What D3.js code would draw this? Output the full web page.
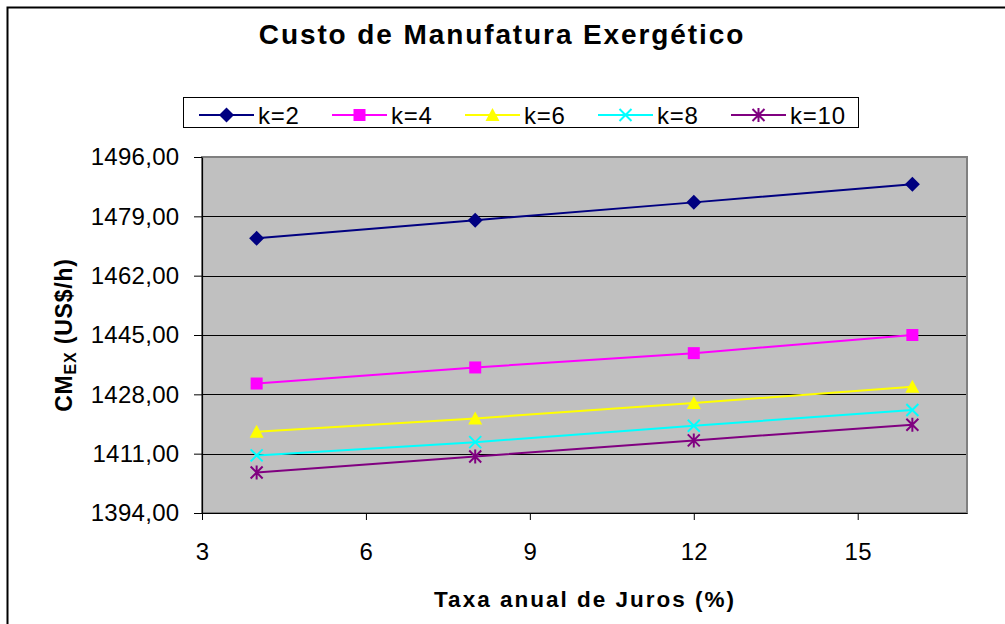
<!DOCTYPE html>
<html>
<head>
<meta charset="utf-8">
<script src="https://cdn.jsdelivr.net/npm/d3@7"></script>
<style>
  html, body { margin: 0; padding: 0; background: #fff; }
  svg { display: block; font-family: "Liberation Sans", Arial, sans-serif; }
</style>
</head>
<body>
<svg id="chart" width="1005" height="624"></svg>
<script>
// Annual interest rate (%) on the x axis
const taxas = [4, 8, 12, 16];
// Exergetic manufacturing cost (US$/h) for each k
const k2  = [1472.7, 1477.9, 1483.0, 1488.2];
const k4  = [1431.1, 1435.7, 1439.8, 1445.0];
const k6  = [1417.3, 1421.1, 1425.5, 1430.2];
const k8  = [1410.5, 1414.3, 1419.0, 1423.5];
const k10 = [1405.6, 1410.2, 1414.8, 1419.3];
const seriesNames = ["k=2", "k=4", "k=6", "k=8", "k=10"];
const yTicks = [1394, 1411, 1428, 1445, 1462, 1479, 1496];
const xTicks = [3, 6, 9, 12, 15];

const seriesValues = [k2, k4, k6, k8, k10];
const colors  = ["#000080", "#FF00FF", "#FFFF00", "#00FFFF", "#800080"];
const shapes  = ["diamond", "square", "triangle", "x", "star"];

const svg = d3.select("#chart");

// outer chart border
svg.append("rect").attr("x", 7.5).attr("y", 7.5).attr("width", 1010).attr("height", 630)
  .attr("fill", "#fff").attr("stroke", "#000").attr("stroke-width", 2);

const L = 202, R = 967, T = 157, B = 513;
const x = d3.scaleLinear().domain([3, 17]).range([L, R]);
const y = d3.scaleLinear().domain([1394, 1496]).range([B, T]);

// plot area
svg.append("rect").attr("x", L).attr("y", T).attr("width", R - L).attr("height", B - T)
  .attr("fill", "#C0C0C0");

// horizontal gridlines
svg.append("g").selectAll("line").data(yTicks.slice(1, -1)).join("line")
  .attr("x1", L).attr("x2", R)
  .attr("y1", d => Math.round(y(d)) + 0.5).attr("y2", d => Math.round(y(d)) + 0.5)
  .attr("stroke", "#000").attr("stroke-width", 1);

// plot area frame
svg.append("rect").attr("x", L).attr("y", T).attr("width", R - L).attr("height", B - T)
  .attr("fill", "none").attr("stroke", "#808080").attr("stroke-width", 2);

const fmt = d => d3.format(".2f")(d).replace(".", ",");

// y axis
const yAxis = svg.append("g").attr("transform", `translate(${L},0)`)
  .call(d3.axisLeft(y).tickValues(yTicks).tickFormat(fmt).tickSize(8).tickSizeOuter(0).tickPadding(14.5));
// x axis
const xAxis = svg.append("g").attr("transform", `translate(0,${B})`)
  .call(d3.axisBottom(x).tickValues(xTicks).tickFormat(d3.format("d")).tickSize(7).tickSizeOuter(0).tickPadding(23));
[yAxis, xAxis].forEach(a => {
  a.select(".domain").attr("stroke", "#000").attr("stroke-width", 1.2);
  a.selectAll(".tick line").attr("stroke", "#000");
  a.selectAll(".tick text").attr("fill", "#000")
    .style("font-family", "'Liberation Sans', Arial, sans-serif").style("font-size", "24px")
    .style("letter-spacing", "0.3px");
});

// marker generator
function marker(g, shape, color) {
  if (shape === "diamond") {
    g.append("path").attr("d", "M0,-7.5L7.5,0L0,7.5L-7.5,0Z").attr("fill", color);
  } else if (shape === "square") {
    g.append("rect").attr("x", -6).attr("y", -6).attr("width", 12).attr("height", 12).attr("fill", color);
  } else if (shape === "triangle") {
    g.append("path").attr("d", "M0,-7L7,6L-7,6Z").attr("fill", color);
  } else if (shape === "x") {
    g.append("path").attr("d", "M-6,-6L6,6M-6,6L6,-6").attr("stroke", color).attr("stroke-width", 2);
  } else if (shape === "star") {
    g.append("path").attr("d", "M-6,-6L6,6M-6,6L6,-6M0,-7L0,7").attr("stroke", color).attr("stroke-width", 2);
  }
}

const line = d3.line().x((d, i) => x(taxas[i])).y(d => y(d));

seriesValues.forEach((vals, si) => {
  svg.append("path").datum(vals).attr("d", line)
    .attr("fill", "none").attr("stroke", colors[si]).attr("stroke-width", 2);
  vals.forEach((v, i) => {
    const g = svg.append("g").attr("transform", `translate(${x(taxas[i])},${y(v)})`);
    marker(g, shapes[si], colors[si]);
  });
});

// title
svg.append("text").attr("x", 502).attr("y", 44).attr("text-anchor", "middle")
  .style("font-size", "28px").style("font-weight", "bold").style("letter-spacing", "1.9px")
  .text("Custo de Manufatura Exergético");

// legend
const lg = svg.append("g");
lg.append("rect").attr("x", 183.5).attr("y", 97.5).attr("width", 675).attr("height", 30)
  .attr("fill", "#fff").attr("stroke", "#000").attr("stroke-width", 1);
seriesNames.forEach((name, i) => {
  const x0 = 199 + i * 133;
  lg.append("line").attr("x1", x0).attr("x2", x0 + 55).attr("y1", 115).attr("y2", 115)
    .attr("stroke", colors[i]).attr("stroke-width", 2);
  const g = lg.append("g").attr("transform", `translate(${x0 + 27.5},115)`);
  marker(g, shapes[i], colors[i]);
  lg.append("text").attr("x", x0 + 59).attr("y", 123.5)
    .style("font-size", "24px").style("letter-spacing", "0.8px").text(name);
});

// axis titles
svg.append("text").attr("x", 585).attr("y", 607).attr("text-anchor", "middle")
  .style("font-size", "22.5px").style("font-weight", "bold").style("letter-spacing", "2px")
  .text("Taxa anual de Juros (%)");

const yt = svg.append("text").attr("transform", "translate(72,335) rotate(-90)")
  .attr("text-anchor", "middle").style("font-size", "23px").style("font-weight", "bold")
  .style("letter-spacing", "0.8px");
yt.append("tspan").text("CM");
yt.append("tspan").attr("dy", 4).style("font-size", "16px").text("EX");
yt.append("tspan").attr("dy", -4).text(" (US$/h)");
</script>
</body>
</html>
